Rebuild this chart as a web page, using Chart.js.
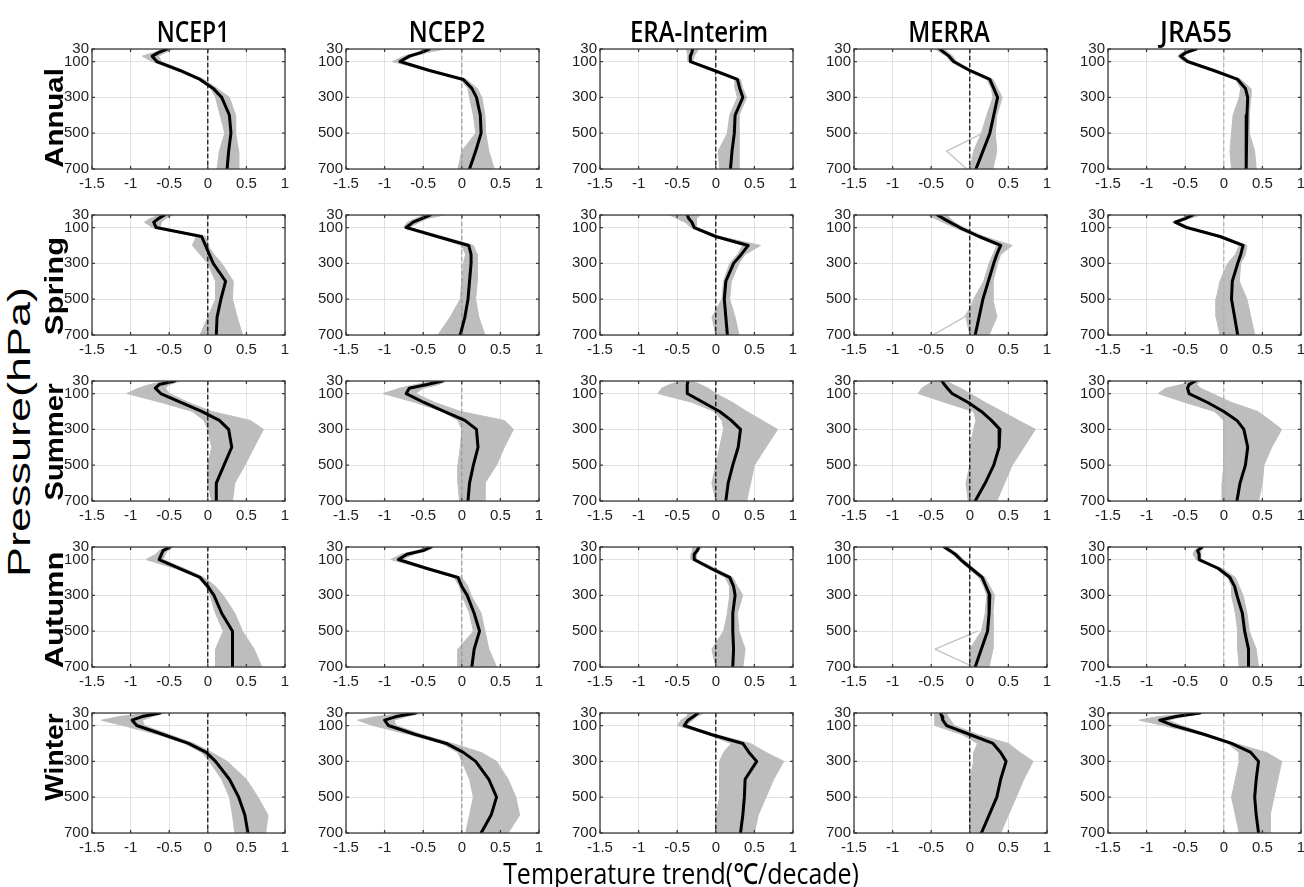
<!DOCTYPE html>
<html><head><meta charset="utf-8">
<script src="https://cdn.jsdelivr.net/npm/chart.js@4"></script>
<style>
html,body{margin:0;padding:0;background:#fff;}
#wrap{position:relative;width:1304px;height:887px;overflow:hidden;background:#fff;}
canvas{position:absolute;}
.t{position:absolute;white-space:nowrap;line-height:1;color:#000;}
</style></head><body><div id="wrap"></div>
<script>
// ---------------- data ----------------
const reanalyses = ['NCEP1','NCEP2','ERA-Interim','MERRA','JRA55'];
const seasons = ['Annual','Spring','Summer','Autumn','Winter'];
const pressureLevels = [30,50,70,100,150,200,250,300,400,500,600,700];
const xTickValues = [-1.5,-1,-0.5,0,0.5,1];
const yTickValues = [30,100,300,500,700];
const xAxisTitle = 'Temperature trend(\u2103/decade)';
const yAxisTitle = 'Pressure(hPa)';

// mean profile (black), lower / upper edge of the grey ensemble; one row per reanalysis
const annualMean = [
  [-0.53,-0.64,-0.72,-0.66,-0.36,-0.10,0.07,0.18,0.28,0.30,0.27,0.25],
  [-0.42,-0.53,-0.68,-0.80,-0.42,0.02,0.13,0.19,0.24,0.25,0.18,0.10],
  [-0.30,-0.31,-0.33,-0.33,-0.02,0.28,0.31,0.35,0.25,0.24,0.21,0.19],
  [-0.39,-0.33,-0.27,-0.21,0.00,0.26,0.31,0.36,0.31,0.26,0.17,0.08],
  [-0.36,-0.49,-0.56,-0.47,-0.13,0.18,0.28,0.31,0.30,0.29,0.29,0.29]];
const annualLow = [
  [-0.57,-0.70,-0.85,-0.72,-0.40,-0.13,0.04,0.10,0.16,0.22,0.15,0.12],
  [-0.48,-0.58,-0.75,-0.90,-0.46,-0.02,0.08,0.10,0.15,0.18,0.00,-0.05],
  [-0.38,-0.37,-0.36,-0.36,-0.05,0.25,0.25,0.28,0.18,0.15,0.03,0.05],
  [-0.45,-0.38,-0.30,-0.25,-0.03,0.22,0.28,0.30,0.22,0.15,0.05,0.00],
  [-0.42,-0.55,-0.60,-0.52,-0.16,0.15,0.22,0.20,0.12,0.10,0.08,0.10]];
const annualHigh = [
  [-0.45,-0.55,-0.64,-0.60,-0.32,-0.05,0.12,0.28,0.36,0.36,0.40,0.40],
  [-0.22,-0.45,-0.62,-0.77,-0.37,0.06,0.20,0.26,0.30,0.31,0.35,0.42],
  [-0.22,-0.25,-0.28,-0.30,0.02,0.32,0.35,0.40,0.30,0.30,0.30,0.30],
  [-0.33,-0.28,-0.22,-0.17,0.03,0.30,0.36,0.42,0.35,0.33,0.35,0.30],
  [-0.30,-0.45,-0.52,-0.44,-0.10,0.22,0.35,0.35,0.33,0.33,0.40,0.42]];

const springMean = [
  [-0.56,-0.64,-0.70,-0.67,-0.08,-0.03,0.02,0.07,0.23,0.17,0.12,0.11],
  [-0.41,-0.52,-0.63,-0.72,-0.32,0.09,0.12,0.12,0.10,0.08,0.04,-0.02],
  [-0.37,-0.35,-0.31,-0.28,0.00,0.42,0.33,0.23,0.13,0.11,0.13,0.15],
  [-0.42,-0.34,-0.26,-0.13,0.12,0.40,0.35,0.31,0.24,0.17,0.12,0.07],
  [-0.40,-0.50,-0.63,-0.48,-0.05,0.25,0.22,0.18,0.11,0.10,0.14,0.18]];
const springLow = [
  [-0.62,-0.75,-0.82,-0.72,-0.15,-0.20,-0.10,0.00,0.10,0.10,0.00,-0.10],
  [-0.49,-0.60,-0.70,-0.76,-0.36,0.00,0.05,0.02,0.00,-0.02,-0.15,-0.31],
  [-0.60,-0.50,-0.40,-0.32,-0.05,0.35,0.28,0.18,0.10,0.08,-0.05,0.00],
  [-0.55,-0.45,-0.35,-0.20,0.08,0.35,0.30,0.25,0.18,0.05,-0.05,0.00],
  [-0.45,-0.55,-0.67,-0.52,-0.08,0.20,0.15,0.05,-0.05,-0.10,-0.10,-0.05]];
const springHigh = [
  [-0.45,-0.55,-0.60,-0.62,-0.03,0.00,0.08,0.18,0.33,0.32,0.38,0.45],
  [-0.23,-0.45,-0.55,-0.68,-0.25,0.15,0.20,0.20,0.20,0.18,0.22,0.30],
  [-0.20,-0.25,-0.25,-0.25,0.05,0.58,0.38,0.30,0.20,0.18,0.25,0.30],
  [-0.30,-0.25,-0.20,-0.08,0.18,0.55,0.40,0.36,0.30,0.30,0.35,0.25],
  [-0.30,-0.45,-0.58,-0.44,0.00,0.30,0.28,0.22,0.20,0.30,0.35,0.40]];

const summerMean = [
  [-0.43,-0.63,-0.68,-0.61,-0.35,-0.08,0.15,0.27,0.31,0.21,0.11,0.11],
  [-0.25,-0.45,-0.68,-0.72,-0.49,-0.23,0.04,0.19,0.21,0.15,0.10,0.08],
  [-0.36,-0.37,-0.37,-0.37,-0.16,0.05,0.20,0.32,0.29,0.22,0.16,0.13],
  [-0.36,-0.33,-0.29,-0.23,-0.02,0.15,0.28,0.39,0.38,0.31,0.20,0.07],
  [-0.37,-0.45,-0.47,-0.45,-0.21,0.00,0.17,0.26,0.31,0.28,0.21,0.17]];
const summerLow = [
  [-0.55,-0.75,-0.90,-1.05,-0.60,-0.20,-0.05,0.00,0.05,0.00,0.00,0.05],
  [-0.35,-0.60,-0.80,-1.02,-0.60,-0.25,-0.05,0.00,-0.02,-0.05,-0.05,-0.03],
  [-0.45,-0.60,-0.70,-0.75,-0.30,-0.02,0.08,0.10,0.05,0.00,-0.05,0.00],
  [-0.45,-0.55,-0.62,-0.67,-0.32,0.05,0.08,0.05,0.00,0.00,-0.05,-0.02],
  [-0.42,-0.55,-0.75,-0.85,-0.50,-0.12,0.00,0.00,0.00,0.00,-0.02,-0.02]];
const summerHigh = [
  [-0.35,-0.50,-0.55,-0.50,-0.25,0.05,0.55,0.72,0.60,0.48,0.35,0.32],
  [-0.20,-0.30,-0.50,-0.60,-0.35,-0.02,0.55,0.67,0.55,0.45,0.30,0.30],
  [-0.30,-0.20,-0.10,0.00,0.22,0.40,0.60,0.80,0.65,0.50,0.45,0.40],
  [-0.30,-0.22,-0.12,0.00,0.20,0.42,0.63,0.85,0.70,0.55,0.45,0.35],
  [-0.32,-0.35,-0.30,-0.15,0.10,0.44,0.60,0.75,0.62,0.52,0.50,0.45]];

const autumnMean = [
  [-0.49,-0.58,-0.60,-0.63,-0.37,-0.10,0.00,0.08,0.18,0.32,0.32,0.32],
  [-0.40,-0.50,-0.71,-0.82,-0.45,-0.05,0.00,0.07,0.16,0.23,0.16,0.13],
  [-0.22,-0.24,-0.28,-0.28,-0.06,0.18,0.23,0.25,0.22,0.22,0.23,0.22],
  [-0.33,-0.26,-0.19,-0.12,0.02,0.16,0.21,0.26,0.25,0.23,0.15,0.07],
  [-0.28,-0.34,-0.32,-0.32,-0.07,0.08,0.14,0.17,0.24,0.27,0.32,0.32]];
const autumnLow = [
  [-0.53,-0.63,-0.67,-0.80,-0.42,-0.13,-0.03,0.03,0.10,0.20,0.10,0.10],
  [-0.45,-0.58,-0.78,-0.92,-0.50,-0.10,-0.03,0.00,0.10,0.15,-0.05,-0.05],
  [-0.30,-0.30,-0.32,-0.32,-0.10,0.12,0.18,0.18,0.15,0.10,-0.05,0.00],
  [-0.36,-0.30,-0.22,-0.15,-0.02,0.12,0.18,0.22,0.20,0.15,0.00,0.00],
  [-0.32,-0.38,-0.40,-0.36,-0.10,0.05,0.10,0.10,0.15,0.18,0.18,0.20]];
const autumnHigh = [
  [-0.45,-0.52,-0.55,-0.58,-0.30,-0.05,0.10,0.20,0.35,0.45,0.60,0.70],
  [-0.35,-0.45,-0.62,-0.78,-0.40,0.00,0.08,0.12,0.25,0.30,0.35,0.45],
  [-0.18,-0.22,-0.25,-0.25,0.00,0.22,0.28,0.35,0.28,0.30,0.38,0.35],
  [-0.30,-0.22,-0.15,-0.08,0.05,0.20,0.26,0.32,0.30,0.30,0.30,0.25],
  [-0.25,-0.30,-0.30,-0.30,-0.02,0.15,0.20,0.25,0.30,0.33,0.42,0.45]];

const winterMean = [
  [-0.62,-0.85,-0.98,-0.92,-0.58,-0.25,-0.02,0.10,0.28,0.40,0.48,0.52],
  [-0.60,-0.85,-1.00,-0.95,-0.60,-0.20,0.02,0.18,0.35,0.45,0.38,0.25],
  [-0.23,-0.29,-0.36,-0.41,-0.06,0.35,0.43,0.53,0.38,0.37,0.35,0.32],
  [-0.38,-0.36,-0.35,-0.30,0.00,0.30,0.40,0.47,0.40,0.35,0.25,0.15],
  [-0.31,-0.62,-0.83,-0.65,-0.25,0.10,0.35,0.45,0.42,0.40,0.42,0.45]];
const winterLow = [
  [-0.75,-1.15,-1.38,-1.10,-0.65,-0.30,-0.08,0.02,0.18,0.28,0.32,0.35],
  [-0.70,-1.10,-1.35,-1.15,-0.68,-0.26,-0.05,0.00,0.10,0.15,0.10,0.05],
  [-0.35,-0.38,-0.45,-0.50,-0.10,0.20,0.10,0.05,0.05,0.05,0.00,0.00],
  [-0.45,-0.45,-0.45,-0.45,-0.10,0.10,0.05,0.05,0.00,0.00,0.00,0.00],
  [-0.36,-0.85,-1.10,-0.78,-0.30,0.05,0.20,0.20,0.15,0.10,0.15,0.20]];
const winterHigh = [
  [-0.55,-0.72,-0.85,-0.82,-0.50,-0.18,0.05,0.25,0.50,0.65,0.78,0.75],
  [-0.50,-0.72,-0.88,-0.85,-0.52,-0.12,0.25,0.45,0.60,0.70,0.75,0.60],
  [-0.15,-0.25,-0.30,-0.38,0.00,0.45,0.65,0.88,0.75,0.65,0.55,0.50],
  [-0.30,-0.28,-0.25,-0.20,0.10,0.50,0.65,0.82,0.70,0.60,0.50,0.40],
  [-0.25,-0.52,-0.72,-0.55,-0.20,0.15,0.55,0.75,0.70,0.65,0.60,0.60]];

// a few stray ensemble members (MERRA) below 500 hPa
const outlierLevels = [500,600,700];
const merraAnnualOutlier = [0.17,-0.30,-0.04];
const merraSpringOutlier = [0.08,-0.07,-0.48];
const merraAutumnOutlier = [0.10,-0.45,0.05];

// zero reference line
const zeroLineLevels = [30,700];
const zeroLineTrend = [0,0];

// ---------------- layout / style ----------------
const PLOT_LEFT0 = 92, PITCH_X = 254, PLOT_W = 193;
const PLOT_TOP0 = 49, PITCH_Y = 166, PLOT_H = 120;
const PAD_L = 48, PAD_T = 12, PAD_R = 14, PAD_B = 28;
const BAND = '#bdbdbd';
const zeroColors = ['#000','#9a9a9a','#000','#000','#b0b0b0'];
const tickFont = {family:"'Liberation Sans Narrow', 'Liberation Sans', Arial, sans-serif", size:15};

const seasonData = [
  [annualMean, annualLow, annualHigh],
  [springMean, springLow, springHigh],
  [summerMean, summerLow, summerHigh],
  [autumnMean, autumnLow, autumnHigh],
  [winterMean, winterLow, winterHigh]];
const outliers = {'0-3': merraAnnualOutlier, '1-3': merraSpringOutlier, '3-3': merraAutumnOutlier};

const wrap = document.getElementById('wrap');

const framePlugin = {
  id:'frame',
  afterDatasetsDraw(chart){
    const {ctx, chartArea:a, scales} = chart;
    ctx.save();
    ctx.strokeStyle = '#3c3c3c'; ctx.lineWidth = 1.3;
    ctx.beginPath();
    xTickValues.forEach(v=>{ const px = scales.x.getPixelForValue(v);
      ctx.moveTo(px,a.bottom); ctx.lineTo(px,a.bottom-3); ctx.moveTo(px,a.top); ctx.lineTo(px,a.top+3); });
    yTickValues.forEach(v=>{ const py = scales.y.getPixelForValue(v);
      ctx.moveTo(a.left,py); ctx.lineTo(a.left+3,py); ctx.moveTo(a.right,py); ctx.lineTo(a.right-3,py); });
    ctx.stroke();
    ctx.strokeRect(a.left, a.top, a.right-a.left, a.bottom-a.top);
    ctx.restore();
  }
};

const toPts = (vals, levels) => levels.map((p,i)=>({x:vals[i], y:p}));

for (let r=0; r<5; r++) {
  for (let c=0; c<5; c++) {
    const [meanArr, lowArr, highArr] = seasonData[r];
    const cv = document.createElement('canvas');
    const w = PAD_L + PLOT_W + PAD_R, h = PAD_T + PLOT_H + PAD_B;
    cv.width = w; cv.height = h;
    cv.style.left = (PLOT_LEFT0 + c*PITCH_X - PAD_L) + 'px';
    cv.style.top = (PLOT_TOP0 + r*PITCH_Y - PAD_T) + 'px';
    cv.style.width = w+'px'; cv.style.height = h+'px';
    wrap.appendChild(cv);
    const datasets = [
      {data: toPts(lowArr[c], pressureLevels), borderColor: BAND, borderWidth:1, pointRadius:0, fill:false, order:5},
      {data: toPts(highArr[c], pressureLevels), borderColor: BAND, borderWidth:1, backgroundColor: BAND, fill:'-1', pointRadius:0, order:4}
    ];
    const out = outliers[r+'-'+c];
    if (out) datasets.push({data: toPts(out, outlierLevels), borderColor:'#c2c2c2', borderWidth:1.3, pointRadius:0, fill:false, order:3});
    datasets.push({data: toPts(zeroLineTrend, zeroLineLevels), borderColor: zeroColors[c], borderWidth:1.2, borderDash:[4,3], pointRadius:0, fill:false, order:2});
    datasets.push({data: toPts(meanArr[c], pressureLevels), borderColor:'#000', borderWidth:3, pointRadius:0, fill:false, order:1});
    new Chart(cv, {
      type:'line',
      data:{datasets},
      plugins:[framePlugin],
      options:{
        indexAxis:'y', responsive:false, animation:false, devicePixelRatio:1,
        layout:{padding:{top:PAD_T, right:PAD_R, left:0, bottom:0}},
        plugins:{legend:{display:false}, tooltip:{enabled:false}},
        elements:{line:{tension:0, borderJoinStyle:'round', borderCapStyle:'round'}},
        scales:{
          x:{type:'linear', min:-1.5, max:1,
             afterBuildTicks:s=>{s.ticks = xTickValues.map(v=>({value:v}));},
             afterFit:s=>{s.height = PAD_B;},
             grid:{color:'#e2e2e2', lineWidth:1, drawTicks:false},
             border:{display:false},
             ticks:{autoSkip:false, maxRotation:0, padding:6, color:'#1e1e1e', font:tickFont,
                    callback:v=>String(v)}},
          y:{type:'linear', reverse:true, min:30, max:700,
             afterBuildTicks:s=>{s.ticks = yTickValues.map(v=>({value:v}));},
             afterFit:s=>{s.width = PAD_L;},
             grid:{color:'#e2e2e2', lineWidth:1, drawTicks:false},
             border:{display:false},
             ticks:{autoSkip:false, padding:3, color:'#1e1e1e', font:tickFont, callback:v=>String(v)}}
        }
      }
    });
  }
}

// ---------------- text ----------------
function placeText(str, o){
  const d = document.createElement('div');
  d.className = 't'; d.textContent = str; d.style.font = o.font;
  wrap.appendChild(d);
  const k = o.len ? o.len / d.offsetWidth : 1;
  d.style.left = o.cx + 'px'; d.style.top = o.cy + 'px';
  d.style.transform = 'translate(-50%,-50%)' + (o.rot ? ' rotate(-90deg)' : '') + ' scaleX(' + k.toFixed(3) + ')';
}
const titleCenters = [193,447,699,949,1196];
const titleLens = [73,77,138,82,72];
reanalyses.forEach((s,i)=>placeText(s,{cx:titleCenters[i], cy:31, len:titleLens[i], font:"600 28px 'Open Sans', 'Noto Sans', sans-serif"}));
const rowCenters = [118,286,442,610,757];
const rowLens = [100,98,117,116,88];
seasons.forEach((s,i)=>placeText(s,{cx:54, cy:rowCenters[i], len:rowLens[i], rot:true, font:"bold 25px 'Liberation Sans', Arial, sans-serif"}));
placeText(yAxisTitle,{cx:20, cy:432, len:290, rot:true, font:"31px 'Liberation Sans', Arial, sans-serif"});
placeText(xAxisTitle,{cx:681, cy:872, len:356, font:"500 29px 'Open Sans', 'Noto Sans', 'DejaVu Sans', sans-serif"});
</script></body></html>
